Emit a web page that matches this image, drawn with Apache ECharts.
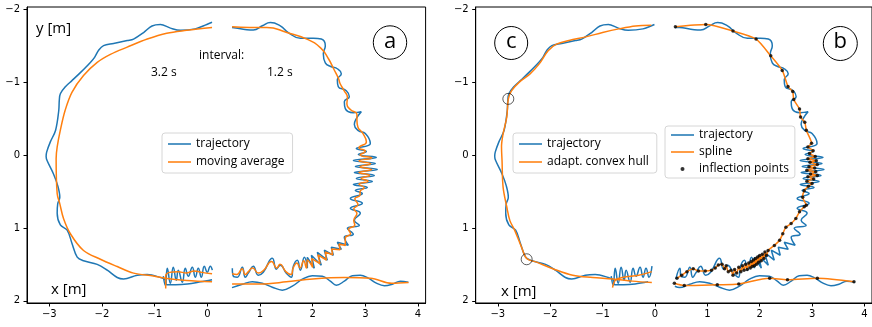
<!DOCTYPE html>
<html><head><meta charset="utf-8">
<script src="https://cdn.jsdelivr.net/npm/echarts@6/dist/echarts.min.js"></script>
<style>html,body{margin:0;padding:0;background:#fff}#c{width:872px;height:327px}</style>
</head><body><div id="c"></div>
<script>
// ---------- tick labels ----------
const xTicks = [-3, -2, -1, 0, 1, 2, 3, 4];
const yTicks = [-2, -1, 0, 1, 2];

// ---------- trajectory (blue), [x m, y m] ----------
const trajArcLeft = [[0.09,-1.82],[-0.01,-1.79],[-0.23,-1.73],[-0.51,-1.71],[-0.70,-1.74],[-0.89,-1.79],[-1.05,-1.77],[-1.21,-1.68],[-1.40,-1.59],[-1.52,-1.57],[-1.78,-1.53],[-1.97,-1.50],[-2.06,-1.44],[-2.14,-1.34],[-2.22,-1.27],[-2.41,-1.13],[-2.57,-1.02],[-2.69,-0.94],[-2.79,-0.84],[-2.81,-0.75],[-2.82,-0.61],[-2.88,-0.34],[-2.98,-0.18],[-3.05,-0.04],[-3.06,0.02],[-3.04,0.08],[-2.92,0.26],[-2.84,0.42],[-2.80,0.58],[-2.84,0.67],[-2.85,0.80],[-2.79,0.96],[-2.66,1.03],[-2.57,1.21],[-2.47,1.40],[-2.35,1.45],[-2.09,1.50],[-1.90,1.58],[-1.71,1.68],[-1.59,1.70],[-1.33,1.65],[-1.14,1.64],[-0.89,1.68],[-0.80,1.71],[-0.77,1.78],[-0.60,1.78],[-0.38,1.77],[-0.13,1.74],[0.09,1.71]];
const trajZigLeft = [[-0.835,1.66],[-0.797,1.785],[-0.759,1.553],[-0.702,1.758],[-0.646,1.539],[-0.589,1.717],[-0.551,1.58],[-0.475,1.744],[-0.418,1.553],[-0.361,1.662],[-0.285,1.539],[-0.228,1.676],[-0.171,1.553],[-0.114,1.676],[-0.057,1.525],[0.0,1.607],[0.057,1.525],[0.095,1.58]];
const trajRight = [[0.469,-1.748],[0.684,-1.726],[0.873,-1.713],[1.044,-1.772],[1.196,-1.817],[1.386,-1.772],[1.538,-1.680],[1.766,-1.603],[2.012,-1.603],[2.164,-1.590],[2.240,-1.498],[2.202,-1.389],[2.240,-1.265],[2.354,-1.211],[2.468,-1.183],[2.544,-1.115],[2.468,-1.033],[2.487,-0.937],[2.639,-0.882],[2.696,-0.800],[2.601,-0.732],[2.620,-0.636],[2.772,-0.581],[2.924,-0.595],[2.829,-0.499],[2.791,-0.417],[2.867,-0.335],[3.000,-0.294],[3.095,-0.157],[2.829,-0.089],[3.019,-0.048],[2.867,-0.007],[3.209,0.034],[2.772,0.075],[3.190,0.116],[2.810,0.157],[3.228,0.198],[2.791,0.239],[3.171,0.280],[2.829,0.321],[3.133,0.363],[2.772,0.404],[3.038,0.445],[2.810,0.486],[2.943,0.527],[2.715,0.595],[2.943,0.663],[2.715,0.732],[2.905,0.800],[2.791,0.896],[2.886,0.964],[2.658,1.005],[2.772,1.087],[2.601,1.129],[2.677,1.238],[2.468,1.197],[2.544,1.293],[2.354,1.265],[2.392,1.375],[2.221,1.306],[2.278,1.443],[2.088,1.334],[2.164,1.512],[1.975,1.375],[2.031,1.553],[1.899,1.403],[1.899,1.553],[1.842,1.403],[1.766,1.580],[1.709,1.443],[1.633,1.525],[1.595,1.676],[1.500,1.621],[1.386,1.512],[1.310,1.566],[1.234,1.416],[1.063,1.607],[0.968,1.648],[0.873,1.525],[0.778,1.621],[0.721,1.676],[0.665,1.539],[0.569,1.676],[0.494,1.662],[0.475,1.553]];
const trajLowRight = [[0.469,1.819],[0.665,1.772],[0.854,1.737],[1.044,1.758],[1.234,1.813],[1.424,1.854],[1.614,1.799],[1.804,1.703],[1.994,1.655],[2.183,1.662],[2.335,1.731],[2.449,1.785],[2.601,1.731],[2.753,1.655],[2.905,1.648],[3.057,1.689],[3.209,1.758],[3.361,1.792],[3.513,1.772],[3.664,1.731],[3.816,1.744]];
// extra trajectory samples visible only in panel b/c (split at a different point)
const trajRightTopStart = [[0.38,-1.75]];
const trajRightZigEnd = [[0.40,1.70]];
const trajLowStart = [[0.38,1.80]];

// ---------- moving average (panel a, orange) ----------
const maArcLeft = [[0.09,-1.75],[-0.39,-1.71],[-0.77,-1.67],[-1.14,-1.59],[-1.52,-1.48],[-1.84,-1.38],[-2.09,-1.27],[-2.35,-1.09],[-2.57,-0.86],[-2.70,-0.61],[-2.79,-0.34],[-2.85,-0.11],[-2.87,0.05],[-2.85,0.53],[-2.80,0.67],[-2.73,0.87],[-2.60,1.08],[-2.35,1.31],[-2.03,1.43],[-1.71,1.53],[-1.40,1.62],[-1.02,1.66],[-0.80,1.69],[-0.39,1.72],[0.09,1.74]];
const maZigLeft = [[-0.79,1.83],[-0.79,1.66],[-0.72,1.61],[-0.55,1.60],[-0.40,1.62],[-0.25,1.59],[-0.10,1.61],[0.09,1.63]];
const maRight = [[0.47,-1.76],[0.80,-1.75],[1.13,-1.75],[1.51,-1.68],[1.89,-1.59],[2.15,-1.47],[2.30,-1.32],[2.40,-1.18],[2.49,-1.05],[2.52,-0.98],[2.60,-0.88],[2.66,-0.79],[2.65,-0.70],[2.72,-0.62],[2.84,-0.56],[2.84,-0.48],[2.86,-0.38],[2.95,-0.30],[3.02,-0.18],[2.88,-0.10],[3.00,-0.05],[2.90,0.00],[3.12,0.04],[2.88,0.08],[3.10,0.12],[2.90,0.16],[3.12,0.20],[2.88,0.24],[3.08,0.28],[2.92,0.32],[3.05,0.36],[2.88,0.40],[2.98,0.45],[2.90,0.50],[2.90,0.55],[2.80,0.60],[2.86,0.68],[2.78,0.74],[2.84,0.80],[2.78,0.90],[2.80,0.96],[2.68,1.02],[2.72,1.08],[2.62,1.14],[2.62,1.24],[2.50,1.22],[2.52,1.30],[2.36,1.29],[2.38,1.37],[2.24,1.33],[2.26,1.44],[2.10,1.37],[2.14,1.49],[1.98,1.42],[2.00,1.54],[1.90,1.44],[1.88,1.55],[1.83,1.45],[1.76,1.55],[1.70,1.48],[1.63,1.55],[1.59,1.64],[1.49,1.60],[1.38,1.50],[1.32,1.55],[1.22,1.46],[1.07,1.58],[0.97,1.62],[0.86,1.55],[0.78,1.60],[0.72,1.64],[0.66,1.56],[0.56,1.64],[0.47,1.63]];
const maLowRight = [[0.47,1.77],[1.00,1.77],[1.50,1.74],[2.00,1.70],[2.60,1.68],[3.10,1.69],[3.50,1.76],[3.82,1.75]];

// ---------- adaptive convex hull (panel c, orange) ----------
const hullArc = [[-0.07,-1.78],[-0.37,-1.77],[-0.69,-1.73],[-1.00,-1.68],[-1.32,-1.62],[-1.64,-1.57],[-1.88,-1.52],[-2.04,-1.43],[-2.21,-1.25],[-2.39,-1.11],[-2.59,-1.00],[-2.74,-0.88],[-2.80,-0.77],[-2.83,-0.52],[-2.90,-0.29],[-2.93,-0.11],[-2.92,0.08],[-2.90,0.44],[-2.83,0.71],[-2.77,0.90],[-2.68,1.03],[-2.55,1.26],[-2.45,1.42],[-2.26,1.47],[-1.95,1.56],[-1.57,1.65],[-1.19,1.68],[-0.81,1.70],[-0.43,1.73],[-0.06,1.75]];
const hullZig = [[-0.81,1.82],[-0.76,1.72],[-0.62,1.68],[-0.31,1.65],[-0.06,1.60]];
const hullCorners = [[-2.80,-0.77],[-2.45,1.43]];

// ---------- inflection points (panel b) ----------
const inflectionPts = [[0.39,-1.76],[0.97,-1.79],[1.49,-1.70],[1.93,-1.59],[2.21,-1.36],[2.43,-1.16],[2.54,-0.94],[2.63,-0.87],[2.65,-0.76],[2.76,-0.63],[2.78,-0.52],[2.86,-0.45],[2.89,-0.34],[2.99,-0.16],[2.92,-0.11],[3.02,-0.06],[2.95,-0.02],[3.06,0.02],[2.92,0.05],[3.08,0.08],[2.96,0.10],[3.10,0.13],[2.94,0.16],[3.05,0.18],[2.90,0.21],[3.07,0.23],[2.97,0.26],[3.10,0.28],[2.92,0.30],[3.03,0.33],[2.90,0.36],[3.00,0.39],[2.93,0.43],[2.85,0.49],[2.82,0.58],[2.89,0.69],[2.85,0.71],[2.76,0.78],[2.69,0.87],[2.60,0.94],[2.50,0.99],[2.44,1.08],[2.38,1.17],[2.28,1.24],[2.16,1.31],[2.13,1.38],[2.10,1.33],[2.08,1.42],[2.05,1.36],[2.03,1.45],[2.00,1.38],[1.98,1.47],[1.96,1.40],[1.94,1.50],[1.92,1.42],[1.90,1.52],[1.88,1.44],[1.86,1.53],[1.84,1.46],[1.82,1.55],[1.79,1.48],[1.76,1.57],[1.73,1.50],[1.70,1.58],[1.67,1.52],[1.64,1.60],[1.60,1.54],[1.56,1.62],[1.52,1.57],[1.49,1.65],[1.45,1.58],[1.40,1.60],[1.36,1.52],[1.33,1.56],[1.28,1.50],[1.21,1.51],[1.15,1.55],[1.08,1.58],[0.96,1.59],[0.83,1.59],[0.73,1.56],[0.61,1.60],[0.51,1.65],[0.42,1.69]];
const inflectionLow = [[0.37,1.76],[0.56,1.79],[1.19,1.78],[1.60,1.77],[2.19,1.69],[2.53,1.71],[3.10,1.69],[3.80,1.74]];

// ---------- chart ----------
const BLUE = '#1f77b4', ORANGE = '#ff7f0e';
const chart = echarts.init(document.getElementById('c'), null, {renderer: 'canvas'});
const minus = v => String(v).replace('-', '\u2212');

function axisX(gi) {
  return {
    type: 'value', gridIndex: gi, min: -3.423, max: 4.144,
    axisLine: {show: true, onZero: false, lineStyle: {color: '#000', width: 1}},
    axisTick: {show: true, length: 3.5, customValues: xTicks, lineStyle: {color: '#000', width: 1}},
    axisLabel: {customValues: xTicks, formatter: minus, fontFamily: 'DejaVu Sans', fontSize: 10, color: '#000', margin: 6},
    splitLine: {show: false}
  };
}
function axisY(gi) {
  return {
    type: 'value', gridIndex: gi, inverse: true, min: -2.03, max: 2.03,
    axisLine: {show: true, onZero: false, lineStyle: {color: '#000', width: 1}},
    axisTick: {show: true, length: 3.5, customValues: yTicks, lineStyle: {color: '#000', width: 1}},
    axisLabel: {customValues: yTicks, formatter: minus, fontFamily: 'DejaVu Sans', fontSize: 10, color: '#000', margin: 7},
    splitLine: {show: false}
  };
}
function line(name, data, color, gi, smooth) {
  return {
    type: 'line', name, data, xAxisIndex: gi, yAxisIndex: gi,
    showSymbol: false, symbol: 'none', smooth: smooth === undefined ? 0.35 : smooth,
    lineStyle: {color, width: 1.5}, itemStyle: {color},
    silent: true, animation: false, clip: true
  };
}
const leftOnly = arr => arr.filter(p => p[0] < 0);

const legendBase = {
  orient: 'vertical', selectedMode: false, backgroundColor: 'rgba(255,255,255,0.85)',
  borderColor: '#d6d6d6', borderWidth: 1, borderRadius: 3,
  itemWidth: 23, itemHeight: 4, itemGap: 4,
  icon: 'path://M0,0H24V1.6H0Z',
  itemStyle: {borderWidth: 0},
  textStyle: {fontFamily: 'Open Sans', fontSize: 12, color: '#000', lineHeight: 14}
};

const txt = (text, x, y, size, align) => ({
  type: 'text', x, y, z: 100,
  style: {text, font: size + 'px "Open Sans"', fill: '#000',
          align: align || 'left', textAlign: align || 'left',
          verticalAlign: 'middle', textVerticalAlign: 'middle'}
});
const ring = (cx, cy, r) => ({type: 'circle', z: 100, shape: {cx, cy, r}, style: {fill: 'none', stroke: '#000', lineWidth: 1}});

chart.setOption({
  animation: false,
  grid: [
    {left: 27, top: 7, width: 398.6, height: 296, show: true, borderColor: '#000', borderWidth: 1, backgroundColor: '#fff'},
    {left: 475.7, top: 7, width: 398.6, height: 296, show: true, borderColor: '#000', borderWidth: 1, backgroundColor: '#fff'}
  ],
  xAxis: [axisX(0), axisX(1)],
  yAxis: [axisY(0), axisY(1)],
  legend: [
    Object.assign({}, legendBase, {left: 162, top: 133, padding: [4, 8, 4, 6], data: ['trajectory', 'moving average']}),
    Object.assign({}, legendBase, {left: 513, top: 133, padding: [4, 8, 4, 6], data: ['trajectory', 'adapt. convex hull']}),
    Object.assign({}, legendBase, {left: 665, top: 126, padding: [2, 6, 2, 6], itemGap: 3,
      data: ['trajectory', 'spline', {name: 'inflection points', icon: 'circle'}]})
  ],
  series: [
    // panel a
    line('trajectory', trajArcLeft, BLUE, 0),
    line('trajectory', trajZigLeft, BLUE, 0, 0.5),
    line('trajectory', trajRight, BLUE, 0, 0.5),
    line('trajectory', trajLowRight, BLUE, 0, 0.4),
    line('moving average', maArcLeft, ORANGE, 0),
    line('moving average', maZigLeft, ORANGE, 0),
    line('moving average', maRight, ORANGE, 0, 0.5),
    line('moving average', maLowRight, ORANGE, 0),
    // panel b / c
    line('trajectory', leftOnly(trajArcLeft), BLUE, 1),
    line('trajectory', leftOnly(trajZigLeft), BLUE, 1, 0.5),
    line('trajectory', trajRightTopStart.concat(trajRight, trajRightZigEnd), BLUE, 1, 0.5),
    line('trajectory', trajLowStart.concat(trajLowRight), BLUE, 1, 0.4),
    line('adapt. convex hull', hullArc, ORANGE, 1),
    line('adapt. convex hull', hullZig, ORANGE, 1),
    line('spline', inflectionPts, ORANGE, 1, 0.25),
    line('spline', inflectionLow, ORANGE, 1, 0.3),
    {type: 'scatter', name: 'inflection points', xAxisIndex: 1, yAxisIndex: 1,
     data: inflectionPts.concat(inflectionLow), symbol: 'circle', symbolSize: 3.5,
     itemStyle: {color: '#000'}, silent: true, z: 5},
    {type: 'scatter', name: 'corners', xAxisIndex: 1, yAxisIndex: 1, data: hullCorners,
     symbol: 'circle', symbolSize: 11,
     itemStyle: {color: 'rgba(0,0,0,0)', borderColor: '#000', borderWidth: 0.8}, silent: true, z: 6}
  ],
  graphic: [
    txt('y [m]', 36, 29, 15),
    txt('x [m]', 51, 290, 15),
    txt('x [m]', 501, 292, 15),
    txt('interval:', 199, 56, 12),
    txt('3.2 s', 151, 73, 12),
    txt('1.2 s', 267, 73, 12),
    ring(390, 42.5, 16.7), txt('a', 390, 42, 22, 'center'),
    ring(840.3, 43.5, 17), txt('b', 840.3, 42, 22, 'center'),
    ring(511.2, 43, 16.5), txt('c', 511.2, 42, 22, 'center')
  ]
});
</script></body></html>
